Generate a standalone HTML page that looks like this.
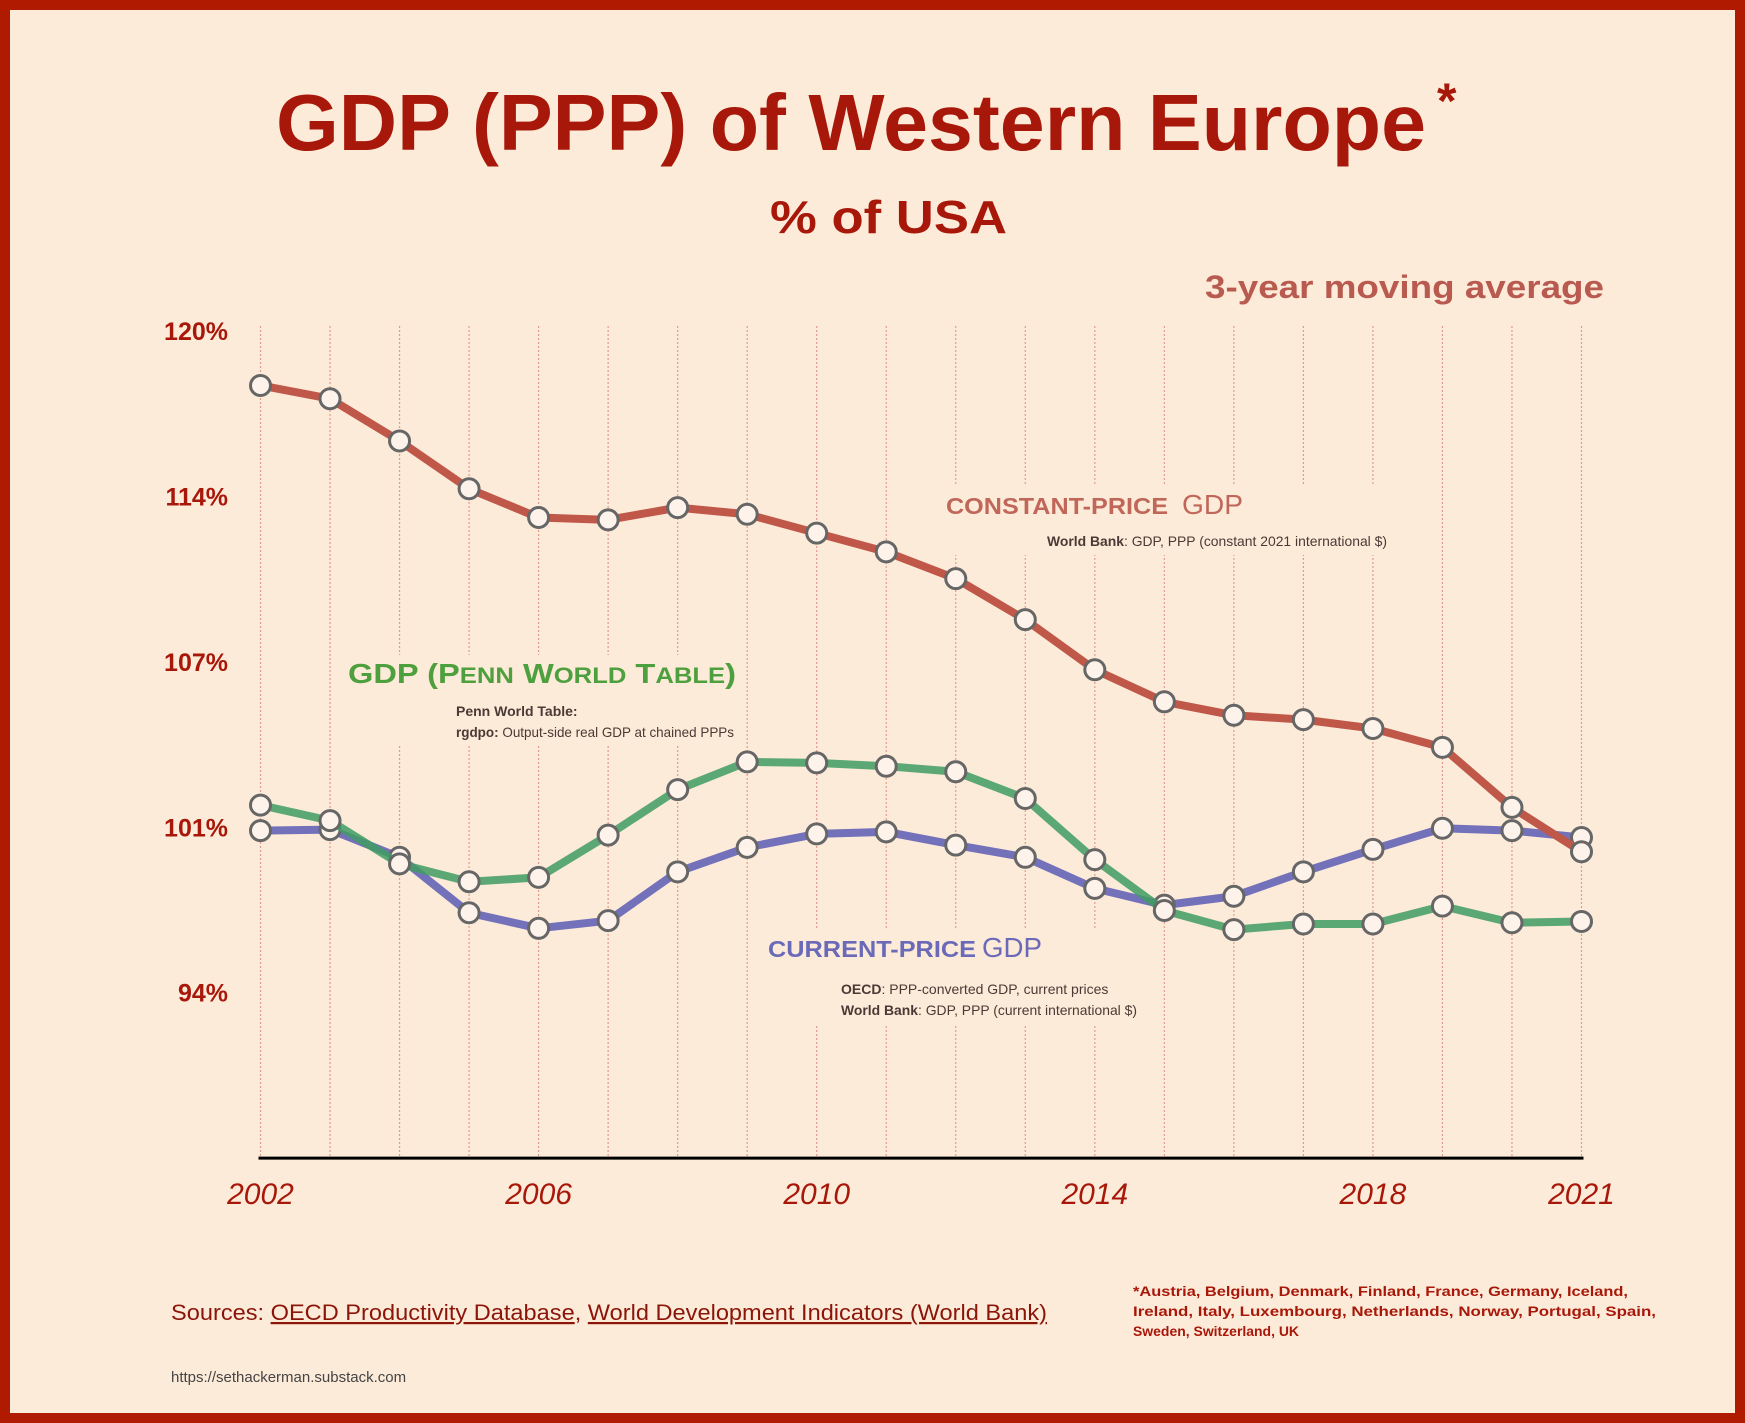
<!DOCTYPE html>
<html><head><meta charset="utf-8"><style>
html,body{margin:0;padding:0;background:#fdebd9;}
svg{display:block;font-family:"Liberation Sans",sans-serif;}
</style></head><body>
<svg id="chart" width="1745" height="1423" viewBox="0 0 1745 1423" xmlns="http://www.w3.org/2000/svg">
<rect x="5" y="5" width="1735" height="1413" fill="#fdebd9" stroke="#b01a00" stroke-width="10"/>
<text x="276" y="150" font-size="80" font-weight="bold" fill="#a8180a" textLength="1150" lengthAdjust="spacingAndGlyphs">GDP (PPP) of Western Europe</text>
<text x="1437" y="118" font-size="50" font-weight="bold" fill="#a8180a">*</text>
<text x="770" y="233" font-size="46" font-weight="bold" fill="#a8180a" textLength="237" lengthAdjust="spacingAndGlyphs">% of USA</text>
<text x="1205" y="298" font-size="32" font-weight="bold" fill="#b85a50" textLength="399" lengthAdjust="spacingAndGlyphs">3-year moving average</text>
<g id="grid"></g>
<g id="yaxis"></g>
<g id="xaxis"></g>
<g>
<rect x="940" y="485" width="450" height="70" fill="#fdebd9"/>
<text x="946" y="514" font-size="23" font-weight="bold" fill="#c0675a" textLength="222" lengthAdjust="spacingAndGlyphs">CONSTANT-PRICE</text>
<text x="1182" y="514" font-size="28" fill="#c0675a" textLength="61" lengthAdjust="spacingAndGlyphs">GDP</text>
<text x="1047" y="546" font-size="14" fill="#4a3a36" textLength="340" lengthAdjust="spacingAndGlyphs"><tspan font-weight="bold">World Bank</tspan>: GDP, PPP (constant 2021 international $)</text>
</g>
<g>
<rect x="344" y="655" width="400" height="90" fill="#fdebd9"/>
<text x="348" y="683" font-size="28" font-weight="bold" fill="#4ea03e" textLength="388" lengthAdjust="spacingAndGlyphs">GDP (P<tspan font-size="22">ENN</tspan> W<tspan font-size="22">ORLD</tspan> T<tspan font-size="22">ABLE</tspan>)</text>
<text x="456" y="716" font-size="14" font-weight="bold" fill="#4a3a36">Penn World Table:</text>
<text x="456" y="737" font-size="14" fill="#4a3a36" textLength="278" lengthAdjust="spacingAndGlyphs"><tspan font-weight="bold">rgdpo:</tspan> Output-side real GDP at chained PPPs</text>
</g>
<g>
<rect x="764" y="930" width="380" height="95" fill="#fdebd9"/>
<text x="768" y="957" font-size="23" font-weight="bold" fill="#6a6ab8" textLength="208" lengthAdjust="spacingAndGlyphs">CURRENT-PRICE</text>
<text x="982" y="957" font-size="28" fill="#6a6ab8" textLength="60" lengthAdjust="spacingAndGlyphs">GDP</text>
<text x="841" y="994" font-size="14" fill="#4a3a36"><tspan font-weight="bold">OECD</tspan>: PPP-converted GDP, current prices</text>
<text x="841" y="1015" font-size="14" fill="#4a3a36" textLength="296" lengthAdjust="spacingAndGlyphs"><tspan font-weight="bold">World Bank</tspan>: GDP, PPP (current international $)</text>
</g>
<g id="series"></g>
<text x="171" y="1320" font-size="22" fill="#8a1508" textLength="876" lengthAdjust="spacingAndGlyphs">Sources: <tspan text-decoration="underline">OECD Productivity Database</tspan>, <tspan text-decoration="underline">World Development Indicators (World Bank)</tspan></text>
<g font-size="14" font-weight="bold" fill="#a8180a">
<text x="1133" y="1296" textLength="495" lengthAdjust="spacingAndGlyphs">*Austria, Belgium, Denmark, Finland, France, Germany, Iceland,</text>
<text x="1133" y="1316" textLength="523" lengthAdjust="spacingAndGlyphs">Ireland, Italy, Luxembourg, Netherlands, Norway, Portugal, Spain,</text>
<text x="1133" y="1336" textLength="166" lengthAdjust="spacingAndGlyphs">Sweden, Switzerland, UK</text>
</g>
<text x="171" y="1382" font-size="15" fill="#444">https://sethackerman.substack.com</text>
</svg>
<script>
const years = [2002,2003,2004,2005,2006,2007,2008,2009,2010,2011,2012,2013,2014,2015,2016,2017,2018,2019,2020,2021];
const constantPrice = [117.86,117.34,115.68,113.8,112.67,112.58,113.06,112.8,112.06,111.32,110.27,108.66,106.69,105.43,104.9,104.73,104.38,103.64,101.28,99.54];
const pennWorld = [101.37,100.76,99.06,98.36,98.53,100.19,101.98,103.07,103.03,102.9,102.68,101.63,99.23,97.23,96.48,96.7,96.7,97.4,96.75,96.8];
const currentPrice = [100.37,100.41,99.32,97.14,96.53,96.83,98.75,99.71,100.24,100.32,99.8,99.32,98.1,97.44,97.79,98.75,99.63,100.46,100.37,100.1];
const yTicks = [120,113.5,107,100.5,94];
const yTickLabels = ["120%","114%","107%","101%","94%"];
const xTickYears = [2002,2006,2010,2014,2018,2021];

const NS="http://www.w3.org/2000/svg";
const X0=260.5,X1=1581.5,Y0=331,YK=25.45,YMIN=87.5;
const xs=y=>X0+(y-years[0])*(X1-X0)/(years[years.length-1]-years[0]);
const ys=v=>Y0+(120-v)*YK;
function mk(tag,attrs,parent){const e=document.createElementNS(NS,tag);for(const k in attrs)e.setAttribute(k,attrs[k]);parent.appendChild(e);return e;}
const grid=document.getElementById('grid');
years.forEach(y=>{
  const l=mk('line',{x1:xs(y),x2:xs(y),y1:326,y2:ys(YMIN),stroke:'#e39a8e','stroke-width':1.2,'stroke-dasharray':'2,2'},grid);
  
  
});
const xa=document.getElementById('xaxis');
const base=mk('line',{x1:X0-2,x2:X1+2,y1:ys(YMIN),y2:ys(YMIN),stroke:'#000','stroke-width':3},xa);


xTickYears.forEach(y=>{
  const t=mk('text',{x:xs(y),y:1204,'text-anchor':'middle','font-size':30,'font-style':'italic',fill:'#a8180a'},xa);
  t.textContent=y;
  
  
});
const ya=document.getElementById('yaxis');
yTicks.forEach((v,i)=>{
  const t=mk('text',{x:228,y:ys(v)+9,'text-anchor':'end','font-size':25,'font-weight':'bold',fill:'#a8180a'},ya);
  t.textContent=yTickLabels[i];
  
  
});
const sg=document.getElementById('series');
function drawLine(vals,color,name,op){
  const g=mk('g',{},sg);
  
  
  const p=mk('polyline',{points:vals.map((v,i)=>xs(years[i])+','+ys(v)).join(' '),fill:'none',stroke:color,'stroke-width':8,'stroke-linejoin':'round',opacity:op},g);
  
  
  return g;
}
function drawDots(g,vals,name){
  vals.forEach((v,i)=>{
    const c=mk('circle',{cx:xs(years[i]),cy:ys(v),r:10,fill:'#fdf3ea',stroke:'#666','stroke-width':3},g);
    
    
  });
}
const gb=drawLine(currentPrice,'#6a6ab8','current-price',0.95);
const gg=drawLine(pennWorld,'#3f9c62',"penn-world",0.85);
const gr=drawLine(constantPrice,'#c0584a','constant-price',1);
drawDots(gb,currentPrice,'current-price');
drawDots(gg,pennWorld,'penn-world');
drawDots(gr,constantPrice,'constant-price');
</script>
</body></html>
